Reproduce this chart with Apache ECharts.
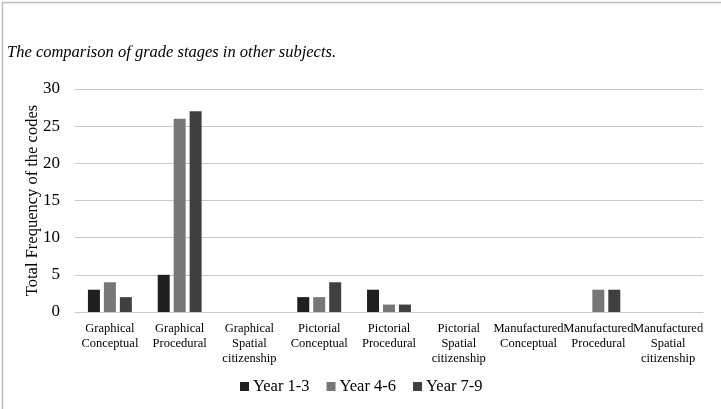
<!DOCTYPE html>
<html><head><meta charset="utf-8">
<script src="https://cdn.jsdelivr.net/npm/echarts@6/dist/echarts.min.js"></script>
<style>html,body{margin:0;padding:0;background:#fff}#c{width:721px;height:409px}</style>
</head><body><div id="c"></div>
<script>
const categories = ["Graphical\nConceptual","Graphical\nProcedural","Graphical\nSpatial\ncitizenship","Pictorial\nConceptual","Pictorial\nProcedural","Pictorial\nSpatial\ncitizenship","Manufactured\nConceptual","Manufactured\nProcedural","Manufactured\nSpatial\ncitizenship"];
const year13 = [3,5,0,2,3,0,0,0,0];
const year46 = [4,26,0,2,1,0,0,3,0];
const year79 = [2,27,0,4,1,0,0,3,0];
const yTicks = {min:0,max:30,interval:5};
const titleText = 'The comparison of grade stages in other subjects.';
const F = '"Liberation Serif","Times New Roman",serif';
const chart = echarts.init(document.getElementById('c'));
const mk = (name, data, color) => ({name, type:'bar', data, barWidth:12, barGap:'33%',
  itemStyle:{color}});
chart.setOption({
  animation:false,
  graphic:[
    {type:'rect', left:0, top:0, shape:{x:0.5, y:0.5, width:719.5, height:407.5}, style:{fill:'none', stroke:'#bdbdbd', lineWidth:1.5}, z:-1, silent:true},
    {type:'text', x:7, y:53, style:{text:titleText, font:'italic 16.5px ' + F, fill:'#000', textVerticalAlign:'middle'}}
  ],
  grid:{left:75, right:18, top:89, bottom:97, containLabel:false},
  legend:{top:378, left:240, padding:0, itemWidth:9, itemHeight:9, itemGap:17,
    icon:'rect', textStyle:{fontFamily:F, fontSize:16.5, color:'#000', padding:[0,0,0,-1]}},
  xAxis:{type:'category', data:categories,
    axisLine:{lineStyle:{color:'#c8c8c8', width:1}}, axisTick:{show:false},
    axisLabel:{interval:0, fontFamily:F, fontSize:12.5, color:'#000', lineHeight:15, margin:9}},
  yAxis:{type:'value', min:yTicks.min, max:yTicks.max, interval:yTicks.interval,
    name:'Total Frequency of the codes', nameLocation:'middle', nameGap:34, nameRotate:90,
    nameMoveOverlap:false,
    nameTextStyle:{fontFamily:F, fontSize:16.5, color:'#000'},
    axisLine:{show:false}, axisTick:{show:false},
    axisLabel:{fontFamily:F, fontSize:17, color:'#000', margin:15},
    splitLine:{lineStyle:{color:'#c8c8c8', width:1}}},
  series:[mk('Year 1-3', year13, '#1f1f1f'), mk('Year 4-6', year46, '#777777'), mk('Year 7-9', year79, '#404040')]
});
</script></body></html>
